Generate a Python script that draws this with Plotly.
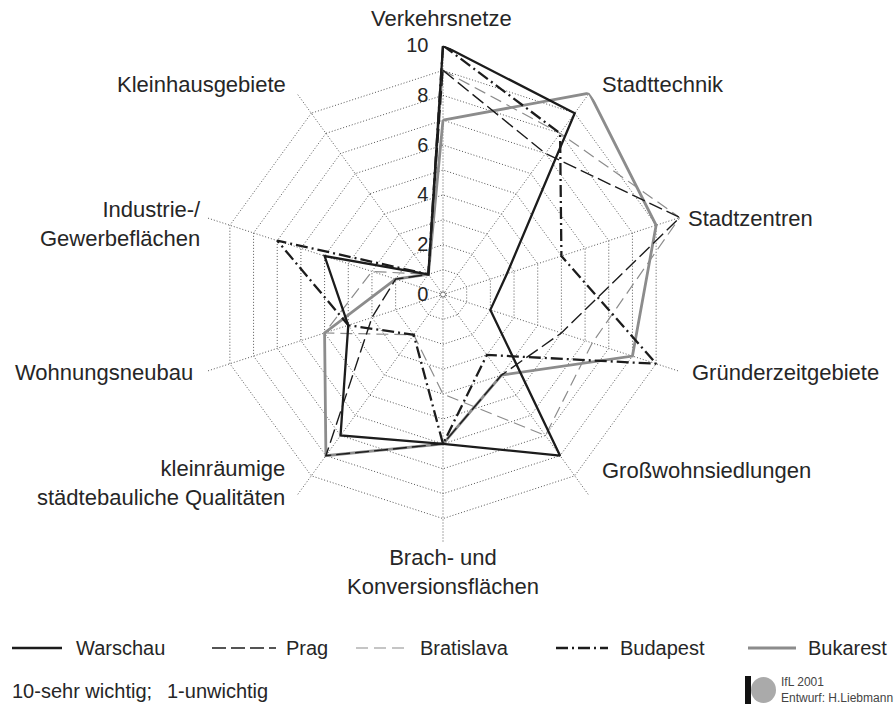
import plotly.graph_objects as go

# ---- data ----
categories = ["Verkehrsnetze", "Stadttechnik", "Stadtzentren", "Gründerzeitgebiete",
              "Großwohnsiedlungen", "Brach- und<br>Konversionsflächen",
              "kleinräumige<br>städtebauliche Qualitäten", "Wohnungsneubau",
              "Industrie-/<br>Gewerbeflächen", "Kleinhausgebiete"]
warschau = [10, 9, 2.7, 2, 8, 6, 7, 4, 5, 1]
prag = [9, 7, 10, 5, 4, 6, 8, 3, 2, 1]
bratislava = [9, 8, 10, 6.3, 7, 4, 2, 5, 3, 1]
budapest = [10, 8, 5, 9, 3, 6, 2, 4, 7, 1]
bukarest = [7, 10, 9, 8, 4, 6, 8, 5, 2, 1]
radial_tickvals = list(range(0, 11))
radial_ticktext = ["0", "", "2", "", "4", "", "6", "", "8", "", "10"]

FONT = "Liberation Sans, Arial, sans-serif"
BLACK = "#1c1c1c"
GRAY = "#8c8c8c"
TXT = "#262626"
W, H = 896, 706


def px(x):
    return x / W


def py(y):
    return (H - y) / H


# style per series: (name, values, color, width, dash)
series = [
    ("Bukarest", bukarest, GRAY, 2.8, "solid"),
    ("Bratislava", bratislava, GRAY, 1.2, "12px,6px"),
    ("Prag", prag, BLACK, 1.4, "14px,5px"),
    ("Budapest", budapest, BLACK, 2.3, "12px,4px,2px,4px"),
    ("Warschau", warschau, BLACK, 2.3, "solid"),
]

fig = go.Figure()
for name, vals, color, width, dash in series:
    fig.add_trace(go.Scatterpolar(
        r=vals + vals[:1], theta=categories + categories[:1],
        mode="lines", name=name, showlegend=False,
        line=dict(color=color, width=width, dash=dash),
        hoverinfo="skip"))

fig.update_layout(
    width=W, height=H, autosize=False,
    margin=dict(l=0, r=0, t=0, b=0),
    paper_bgcolor="white", plot_bgcolor="white",
    font=dict(family=FONT, color=TXT),
    polar=dict(
        domain=dict(x=[px(194), px(692)], y=[py(543.5), py(45.5)]),
        bgcolor="white",
        gridshape="linear",
        radialaxis=dict(range=[0, 10], tickvals=radial_tickvals,
                        ticktext=[t + "&nbsp;&nbsp;" if t else t for t in radial_ticktext],
                        angle=90, side="counterclockwise", tickangle=90,
                        showline=False, ticks="",
                        gridcolor="#555", griddash="1px,2px", gridwidth=1,
                        tickfont=dict(family=FONT, size=20, color=TXT)),
        angularaxis=dict(direction="clockwise", rotation=90,
                         showline=False, ticks="", showticklabels=False,
                         gridcolor="#555", griddash="1px,2px", gridwidth=1),
    ),
)

# category labels around the chart (text from categories list)
label_pos = [  # x, y (px), xanchor
    (441, 18, "center"), (600, 85, "left"), (686, 218, "left"), (690, 372, "left"),
    (600, 470, "left"), (443, 572, "center"), (287, 483, "right"), (195, 372, "right"),
    (203, 224, "right"), (288, 85, "right"),
]
for cat, (x, y, xa) in zip(categories, label_pos):
    fig.add_annotation(text=cat, x=px(x), y=py(y), xref="paper", yref="paper",
                       xanchor=xa, yanchor="middle", align=xa if xa != "center" else "center",
                       showarrow=False, font=dict(family=FONT, size=22, color=TXT))

# manual legend (line samples + names)
legend_pos = {  # name: (line x0, line x1, text x)
    "Warschau": (12, 62, 74), "Prag": (212, 276, 284), "Bratislava": (356, 408, 418),
    "Budapest": (556, 608, 618), "Bukarest": (748, 796, 806),
}
LEG_Y = 648
for name, vals, color, width, dash in series:
    x0, x1, tx = legend_pos[name]
    fig.add_shape(type="line", xref="paper", yref="paper", x0=px(x0), x1=px(x1),
                  y0=py(LEG_Y), y1=py(LEG_Y), line=dict(color=color, width=width, dash=dash))
    fig.add_annotation(text=name, x=px(tx), y=py(LEG_Y), xref="paper", yref="paper",
                       xanchor="left", yanchor="middle", showarrow=False,
                       font=dict(family=FONT, size=20, color=TXT))

fig.add_annotation(text="10-sehr wichtig;", x=px(10), y=py(691),
                   xref="paper", yref="paper", xanchor="left", yanchor="middle",
                   showarrow=False, font=dict(family=FONT, size=20, color=TXT))
fig.add_annotation(text="1-unwichtig", x=px(165), y=py(691),
                   xref="paper", yref="paper", xanchor="left", yanchor="middle",
                   showarrow=False, font=dict(family=FONT, size=20, color=TXT))
fig.add_annotation(text="IfL 2001<br>Entwurf: H.Liebmann", x=px(779), y=py(690),
                   xref="paper", yref="paper", xanchor="left", yanchor="middle", align="left",
                   showarrow=False, font=dict(family=FONT, size=12, color="#444"))
# small logo imitation
fig.add_shape(type="rect", xref="paper", yref="paper",
              x0=px(745), x1=px(751), y0=py(704), y1=py(676),
              fillcolor="#111", line=dict(width=0))
fig.add_shape(type="circle", xref="paper", yref="paper",
              x0=px(751), x1=px(776), y0=py(703), y1=py(677),
              fillcolor="#aaa", line=dict(width=0))
# tiny circle at the chart centre
fig.add_shape(type="circle", xref="paper", yref="paper",
              x0=px(440.5), x1=px(445.5), y0=py(297), y1=py(292),
              fillcolor="white", line=dict(color="#555", width=0.8))

fig.write_html("out.html", config={"displayModeBar": False},
               post_script="document.body.style.margin='0px';")
